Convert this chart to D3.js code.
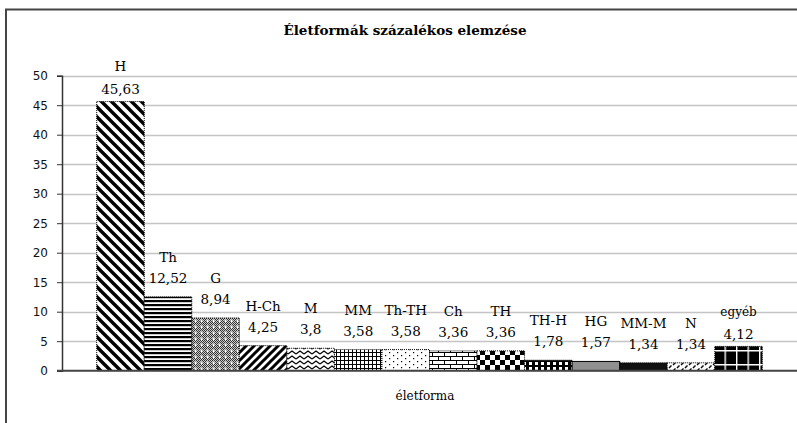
<!DOCTYPE html>
<html lang="hu">
<head>
<meta charset="utf-8">
<title>Életformák százalékos elemzése</title>
<script src="https://d3js.org/d3.v7.min.js"></script>
<style>
  body { margin: 0; background: #fff; }
  svg { display: block; }
  .tick text { font-family: "DejaVu Sans", sans-serif; font-size: 12px; fill: #111; }
  .lbl { font-family: "DejaVu Serif", serif; font-size: 13.5px; fill: #000; text-anchor: middle; }
</style>
</head>
<body>
<script>
// data
var forms = ["H", "Th", "G", "H-Ch", "M", "MM", "Th-TH", "Ch", "TH", "TH-H", "HG", "MM-M", "N", "egyéb"];
var percents = [45.63, 12.52, 8.94, 4.25, 3.8, 3.58, 3.58, 3.36, 3.36, 1.78, 1.57, 1.34, 1.34, 4.12];
var yTicks = [0, 5, 10, 15, 20, 25, 30, 35, 40, 45, 50];

var width = 797, height = 423;
var plotLeft = 62, plotRight = 797, plotTop = 75.7, plotBottom = 370.7;

var svg = d3.select("body").append("svg")
    .attr("width", width)
    .attr("height", height);

var defs = svg.append("defs");

// fill patterns, one per bar
function pattern(id, w, h, bg, draw) {
  var p = defs.append("pattern")
      .attr("id", id)
      .attr("patternUnits", "userSpaceOnUse")
      .attr("width", w)
      .attr("height", h);
  p.append("rect").attr("width", w).attr("height", h).attr("fill", bg);
  draw(p);
}

pattern("p0", 10, 10, "#fff", function (p) {
  p.append("path").attr("d", "M0,0L10,10M-5,5L5,15M5,-5L15,5")
    .attr("stroke", "#000").attr("stroke-width", 3.4);
});
pattern("p1", 4, 4, "#fff", function (p) {
  p.append("rect").attr("width", 4).attr("height", 2.2).attr("fill", "#000");
});
pattern("p2", 6, 6, "#333", function (p) {
  [[1,0],[3,0],[5,0],[0,1],[2,1],[4,1],[1,2],[5,2],[0,3],[4,3],[1,4],[3,4],[5,4],[0,5],[2,5],[4,5]].forEach(function (d) {
    p.append("rect").attr("x", d[0]).attr("y", d[1]).attr("width", 1).attr("height", 1).attr("fill", "#ccc");
  });
  p.append("path").attr("d", "M2,3H5M3.5,1.5V4.5").attr("stroke", "#fff").attr("stroke-width", 1);
});
pattern("p3", 8, 8, "#fff", function (p) {
  p.append("path").attr("d", "M0,8L8,0M-4,4L4,-4M4,12L12,4")
    .attr("stroke", "#000").attr("stroke-width", 3);
});
pattern("p4", 8, 5, "#fff", function (p) {
  p.append("path").attr("d", "M0,4L4,1L8,4").attr("fill", "none")
    .attr("stroke", "#000").attr("stroke-width", 1.2);
});
pattern("p5", 4, 4, "#fff", function (p) {
  p.append("path").attr("d", "M0.5,0V4M0,0.5H4").attr("stroke", "#000").attr("stroke-width", 1);
});
pattern("p6", 8, 6, "#fff", function (p) {
  p.append("rect").attr("x", 1).attr("y", 1).attr("width", 1.2).attr("height", 1.2).attr("fill", "#000");
  p.append("rect").attr("x", 5).attr("y", 4).attr("width", 1.2).attr("height", 1.2).attr("fill", "#000");
});
pattern("p7", 12, 8, "#fff", function (p) {
  p.append("path").attr("d", "M0,0.5H12M0,4.5H12M0.5,0V4.5M6.5,4.5V8")
    .attr("stroke", "#000").attr("stroke-width", 1);
});
pattern("p8", 10, 10, "#fff", function (p) {
  p.append("rect").attr("width", 5).attr("height", 5).attr("fill", "#000");
  p.append("rect").attr("x", 5).attr("y", 5).attr("width", 5).attr("height", 5).attr("fill", "#000");
});
pattern("p9", 6, 5, "#000", function (p) {
  p.append("rect").attr("x", 1).attr("y", 2).attr("width", 3).attr("height", 3).attr("fill", "#fff");
});
pattern("p10", 4, 4, "#909090", function () {});
pattern("p11", 4, 4, "#111", function () {});
pattern("p12", 8, 6, "#fff", function (p) {
  p.append("path").attr("d", "M1,5L3.5,2.5M5,2L7.5,-0.5M5,8L7.5,5.5")
    .attr("stroke", "#000").attr("stroke-width", 1.4);
});
pattern("p13", 11.5, 14, "#000", function (p) {
  p.append("path").attr("d", "M0.7,0V14M0,0.7H11.5")
    .attr("stroke", "#fff").attr("stroke-width", 1.4);
});

// outer chart frame
svg.append("rect")
    .attr("x", 6).attr("y", 9.5)
    .attr("width", 820).attr("height", 440)
    .attr("fill", "none")
    .attr("stroke", "#454545")
    .attr("stroke-width", 2);

svg.append("text")
    .attr("x", 405).attr("y", 35)
    .attr("text-anchor", "middle")
    .attr("font-family", "DejaVu Serif, serif")
    .attr("font-weight", "bold")
    .attr("font-size", 13.5)
    .text("Életformák százalékos elemzése");

var x = d3.scaleBand()
    .domain(forms)
    .range([plotLeft, plotRight])
    .paddingInner(0)
    .paddingOuter(0.73);

var y = d3.scaleLinear()
    .domain([0, 50])
    .range([plotBottom, plotTop]);

// gridlines
svg.append("g")
    .selectAll("line")
    .data(yTicks.slice(1))
    .enter()
    .append("line")
    .attr("x1", plotLeft).attr("x2", plotRight)
    .attr("y1", function (d) { return Math.round(y(d)) + 0.5; })
    .attr("y2", function (d) { return Math.round(y(d)) + 0.5; })
    .attr("stroke", "#c4c4c4")
    .attr("stroke-width", 1.5);

// bars
svg.append("g")
    .selectAll("rect")
    .data(forms)
    .enter()
    .append("rect")
    .attr("x", function (d) { return x(d); })
    .attr("y", function (d, i) { return y(percents[i]); })
    .attr("width", x.bandwidth())
    .attr("height", function (d, i) { return plotBottom - y(percents[i]); })
    .attr("fill", function (d, i) { return "url(#p" + i + ")"; })
    .attr("stroke", "#000")
    .attr("stroke-width", 1)
    .attr("stroke-dasharray", function (d) { return d == "HG" ? null : "1,1"; });

// y axis
var yAxis = svg.append("g")
    .attr("transform", "translate(" + plotLeft + ",0)")
    .call(d3.axisLeft(y).tickValues(yTicks).tickSize(5).tickPadding(9));
yAxis.select(".domain").attr("stroke", "#333").attr("stroke-width", 1.5);
yAxis.selectAll(".tick line").attr("stroke", "#333");

// x axis line
svg.append("line")
    .attr("x1", plotLeft - 5).attr("x2", plotRight)
    .attr("y1", plotBottom).attr("y2", plotBottom)
    .attr("stroke", "#444")
    .attr("stroke-width", 2);

// data labels: name above value; H and egyéb sit closer to their bars
var nearBar = ["H", "egyéb"];
var labels = svg.append("g")
    .selectAll("g")
    .data(forms)
    .enter()
    .append("g")
    .attr("transform", function (d, i) {
      return "translate(" + (x(d) + x.bandwidth() / 2) + "," + y(percents[i]) + ")";
    });

labels.append("text")
    .attr("class", "lbl")
    .attr("y", function (d) { return nearBar.indexOf(d) >= 0 ? -30 : -35; })
    .style("font-size", function (d) { return d == "egyéb" ? "12px" : null; })
    .text(function (d) { return d; });

labels.append("text")
    .attr("class", "lbl")
    .attr("y", function (d) { return nearBar.indexOf(d) >= 0 ? -7.5 : -14; })
    .text(function (d, i) { return String(percents[i]).replace(".", ","); });

svg.append("text")
    .attr("x", 425).attr("y", 400)
    .attr("text-anchor", "middle")
    .attr("font-family", "DejaVu Serif, serif")
    .attr("font-size", 12)
    .text("életforma");
</script>
</body>
</html>
